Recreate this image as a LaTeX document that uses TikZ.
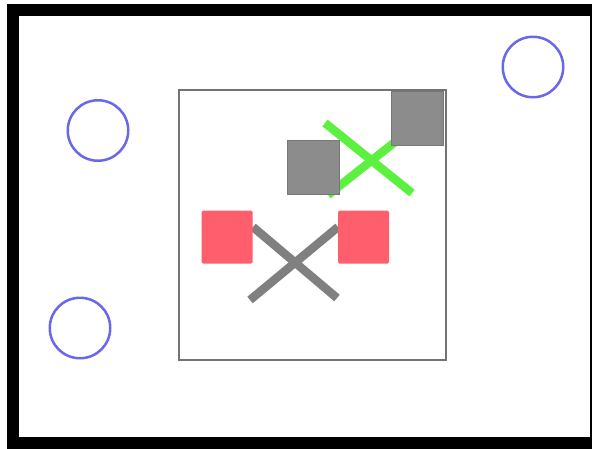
\documentclass[tikz,border=0pt]{standalone}
\usepackage{xcolor}
\usepackage{tikz}

\definecolor{ringblue}{RGB}{104,104,232}
\definecolor{boxgray}{RGB}{140,140,140}
\definecolor{crossgray}{RGB}{128,128,128}
\definecolor{padred}{RGB}{255,94,108}
\definecolor{crossgreen}{RGB}{92,240,64}

\begin{document}
\begin{tikzpicture}[x=1pt, y=-1pt,
    ring/.style={circle, draw=ringblue, line width=2.5pt, minimum size=60.5pt, inner sep=0pt},
    graybox/.style={rectangle, fill=boxgray, draw=boxgray!85!black, line width=0.5pt,
        minimum width=52pt, minimum height=54pt, inner sep=0pt},
    redbox/.style={rectangle, rounded corners=1.5pt, fill=padred,
        minimum width=51pt, minimum height=53pt, inner sep=0pt},
    bar/.style={line width=8.5pt}]
    \useasboundingbox (0,0) rectangle (592,448);
    \clip (0,0) rectangle (592,448);
    % outer frame and inner area
    \draw[line width=12pt] (13,9.5) rectangle (596,443);
    \draw[line width=2pt, draw=crossgray!90!black] (178.5,90) rectangle (445.5,360);
    % circles
    \node[ring] (ringA) at (98,130.5) {};
    \node[ring] (ringB) at (533,67) {};
    \node[ring] (ringC) at (80,328) {};
    % end points of the crosses
    \coordinate (gA) at (250,300);
    \coordinate (gB) at (338,227);
    \coordinate (gC) at (253,227);
    \coordinate (gD) at (337,298);
    \coordinate (kA) at (325,123);
    \coordinate (kB) at (412,193);
    \coordinate (kC) at (328,195);
    \coordinate (kD) at (400,138);
    \draw[bar, crossgray] (gA) -- (gB);
    \draw[bar, crossgray] (gC) -- (gD);
    \draw[bar, crossgreen] (kA) -- (kB);
    \draw[bar, crossgreen] (kC) -- (kD);
    % boxes on top
    \node[graybox] (topbox) at (417.5,118) {};
    \node[graybox] (midbox) at (313.3,167) {};
    \node[redbox] (leftpad) at (227.2,237) {};
    \node[redbox] (rightpad) at (363.5,237) {};
\end{tikzpicture}
\end{document}
